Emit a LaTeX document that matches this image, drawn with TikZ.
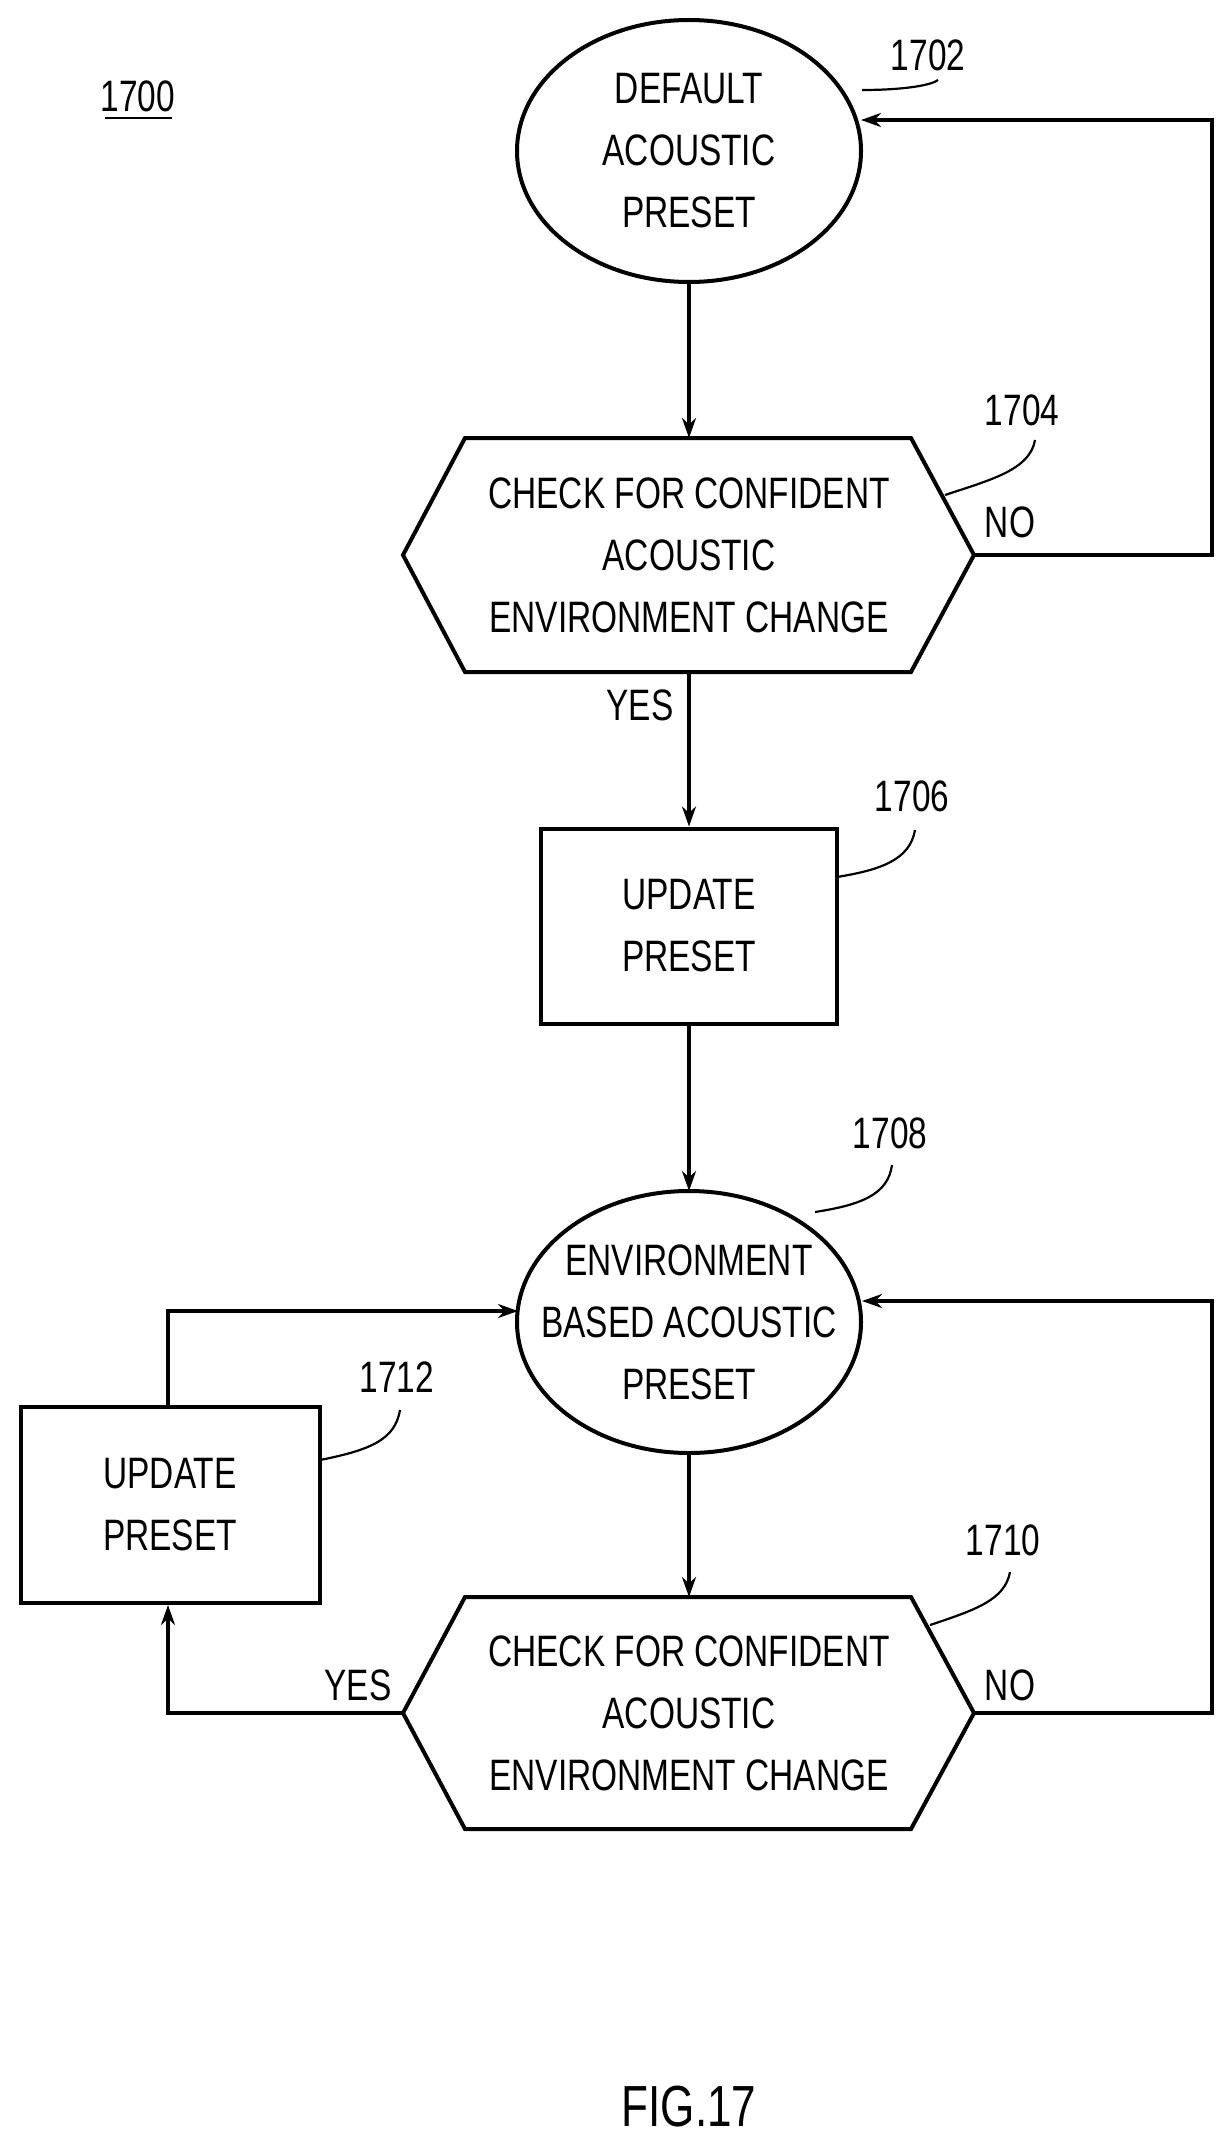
\documentclass[tikz,border=0pt]{standalone}
\usepackage{fontspec}
\setmainfont{Liberation Sans}[FakeStretch=0.76]
\usetikzlibrary{shapes.geometric,arrows.meta}
\begin{document}
\begin{tikzpicture}[x=1pt,y=-1pt,
  every node/.style={font=\fontsize{44}{62}\selectfont},
  txt/.style={align=center,inner sep=0},
  sh/.style={line width=4pt},
  box/.style={draw,line width=4pt,align=center,inner sep=0},
  ln/.style={line width=3.5pt},
  arr/.style={ln,-{Stealth[length=20pt,width=14pt]}},
  lead/.style={line width=2.2pt}]
\useasboundingbox (0,0) rectangle (1230,2154);
\node (n1700) at (138,96) {1700};
\draw[line width=2.2pt] (105,118) -- (172,118);
% 1702
\draw[sh] (689,151) ellipse [x radius=172, y radius=131];
\node[txt] (e1) at (689,151) {DEFAULT\\ACOUSTIC\\PRESET};
\coordinate (e1s) at (689,282);
\node (l1702) at (928,55) {1702};
\draw[lead] (862,90) .. controls (905,90) and (932,85) .. (938,80);
% 1704
\draw[sh] (403,555) -- (465,438) -- (911,438) -- (974,555) -- (911,672) -- (465,672) -- cycle;
\coordinate (h1t) at (689,438); \coordinate (h1b) at (689,672); \coordinate (h1r) at (974,555);
\node[txt] (t1704) at (689,555) {CHECK FOR CONFIDENT\\ACOUSTIC\\ENVIRONMENT CHANGE};
\node (l1704) at (1022,410) {1704};
\draw[lead] (945,495) .. controls (990,480) and (1030,470) .. (1035,440);
\node (no1) at (1010,522) {NO};
\node (yes1) at (640,705) {YES};
% 1706
\node[box,minimum width=296,minimum height=195] (r1) at (689,926) {UPDATE\\PRESET};
\node (l1706) at (912,796) {1706};
\draw[lead] (837,877) .. controls (880,870) and (910,860) .. (915,830);
% 1708
\draw[sh] (689,1322) ellipse [x radius=172, y radius=131];
\node[txt] (e2) at (689,1322) {ENVIRONMENT\\BASED ACOUSTIC\\PRESET};
\coordinate (e2n) at (689,1191); \coordinate (e2s) at (689,1453);
\node (l1708) at (890,1133) {1708};
\draw[lead] (815,1212) .. controls (860,1205) and (888,1195) .. (892,1165);
% 1712
\node[box,minimum width=299,minimum height=196] (r2) at (170,1505) {UPDATE\\PRESET};
\node (l1712) at (397,1377) {1712};
\draw[lead] (320,1460) .. controls (370,1450) and (395,1440) .. (400,1410);
% 1710
\draw[sh] (403,1713) -- (465,1597) -- (911,1597) -- (974,1713) -- (911,1829) -- (465,1829) -- cycle;
\coordinate (h2t) at (689,1597); \coordinate (h2l) at (403,1713); \coordinate (h2r) at (974,1713);
\node[txt] (t1710) at (689,1713) {CHECK FOR CONFIDENT\\ACOUSTIC\\ENVIRONMENT CHANGE};
\node (l1710) at (1003,1540) {1710};
\draw[lead] (930,1625) .. controls (975,1610) and (1005,1600) .. (1010,1572);
\node (yes2) at (358,1685) {YES};
\node (no2) at (1010,1685) {NO};
\node (fig) at (689,2107) {\fontsize{58}{60}\selectfont FIG.17};
% connectors
\draw[arr] (e1s) -- (h1t);
\draw[arr] (h1r) -- (1212,555) -- (1212,120) -- (861,120);
\draw[arr] (h1b) -- (r1.north);
\draw[arr] (r1.south) -- (e2n);
\draw[arr] (e2s) -- (h2t);
\draw[arr] (h2r) -- (1212,1713) -- (1212,1301) -- (862,1301);
\draw[arr] (h2l) -- (168,1713) -- (r2.south -| 168,0);
\draw[arr] (r2.north -| 168,0) -- (168,1311) -- (518,1311);
\end{tikzpicture}
\end{document}
